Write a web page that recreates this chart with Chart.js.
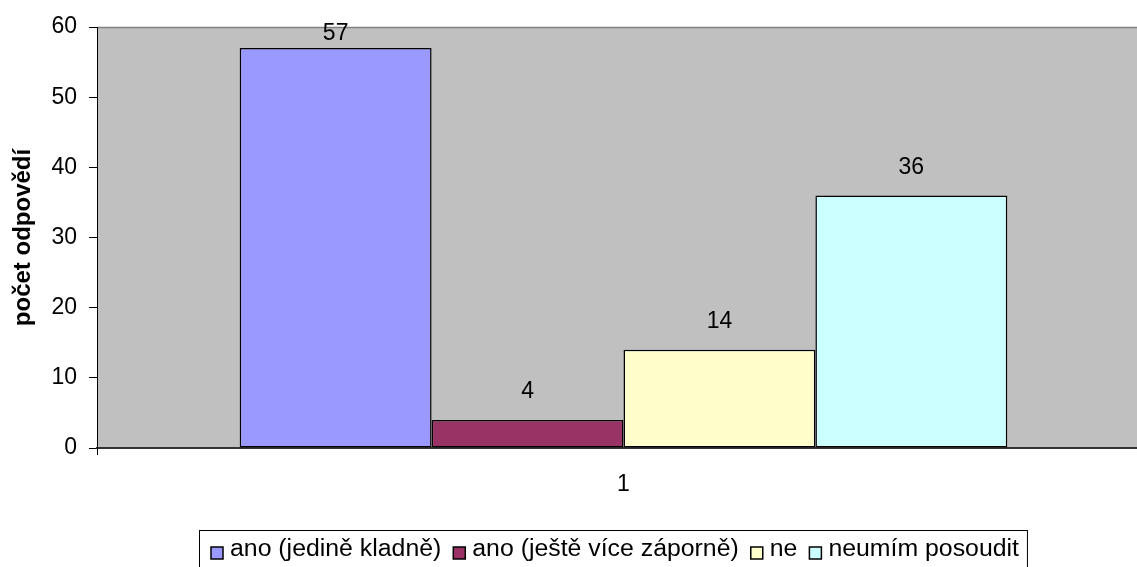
<!DOCTYPE html>
<html>
<head>
<meta charset="utf-8">
<script src="https://cdn.jsdelivr.net/npm/chart.js@4/dist/chart.umd.min.js"></script>
<style>
  html, body { margin: 0; padding: 0; background: #fff; overflow: hidden; }
  #wrap { width: 1150px; height: 567px; }
</style>
</head>
<body>
<div id="wrap"><canvas id="c" width="1150" height="567"></canvas></div>
<script>
const categories = ['1'];
const seriesNames = ['ano (jedině kladně)', 'ano (ještě více záporně)', 'ne', 'neumím posoudit'];
const seriesValues = [[57], [4], [14], [36]];
const seriesColors = ['#9999FF', '#993366', '#FFFFCC', '#CCFFFF'];
const yTicks = [0, 10, 20, 30, 40, 50, 60];

const FONT = 'Liberation Sans, Arial, sans-serif';

// grey plot background + top border line
const plotBg = {
  id: 'plotBg',
  beforeDraw(chart) {
    const { ctx, chartArea: a } = chart;
    ctx.save();
    ctx.fillStyle = '#C0C0C0';
    ctx.fillRect(a.left, a.top, a.right - a.left, a.bottom - a.top);
    ctx.strokeStyle = '#808080';
    ctx.lineWidth = 1.5;
    ctx.beginPath();
    ctx.moveTo(a.left, a.top + 0.5);
    ctx.lineTo(a.right, a.top + 0.5);
    ctx.stroke();
    ctx.restore();
  }
};

// value labels above bars
const valueLabels = {
  id: 'valueLabels',
  afterDatasetsDraw(chart) {
    const { ctx, chartArea: a } = chart;
    ctx.save();
    ctx.font = '23px ' + FONT;
    ctx.fillStyle = '#000';
    ctx.textAlign = 'center';
    ctx.textBaseline = 'middle';
    chart.data.datasets.forEach((ds, i) => {
      chart.getDatasetMeta(i).data.forEach((bar, j) => {
        const y = Math.max(bar.y - 28, a.top + 7);
        ctx.fillText(ds.data[j], bar.x, y);
      });
    });
    ctx.restore();
  }
};

// legend in a frame, laid out like the original (glyphs a bit wide)
const frameLegend = {
  id: 'frameLegend',
  afterDraw(chart) {
    const ctx = chart.ctx;
    const left = 199, top = 530, cy = 553, sx = 1.08;
    ctx.save();
    ctx.font = '23px ' + FONT;
    ctx.textBaseline = 'middle';
    ctx.textAlign = 'left';
    let x = left + 12;
    chart.data.datasets.forEach(ds => {
      ctx.fillStyle = ds.backgroundColor;
      ctx.fillRect(x, cy - 6, 12, 12);
      ctx.strokeStyle = '#000';
      ctx.lineWidth = 1.5;
      ctx.strokeRect(x, cy - 6, 12, 12);
      x += 19;
      ctx.save();
      ctx.translate(x, cy - 3);
      ctx.scale(sx, 1);
      ctx.fillStyle = '#000';
      ctx.fillText(ds.label, 0, 0);
      ctx.restore();
      x += ctx.measureText(ds.label).width * sx + 12;
    });
    ctx.strokeStyle = '#000';
    ctx.lineWidth = 1;
    ctx.strokeRect(left + 0.5, top + 0.5, x - 4 - left, 60);
    ctx.restore();
  }
};

new Chart(document.getElementById('c'), {
  type: 'bar',
  data: {
    labels: categories,
    datasets: seriesNames.map((name, i) => ({
      label: name,
      data: seriesValues[i],
      backgroundColor: seriesColors[i],
      borderColor: '#000',
      borderWidth: 1.5,
      borderSkipped: false,
      categoryPercentage: 0.729,
      barPercentage: 1.0,
    })),
  },
  options: {
    responsive: false,
    animation: false,
    layout: { padding: { top: 27, left: 0, right: 0, bottom: 0 } },
    plugins: {
      tooltip: { enabled: false },
      legend: { display: false },
    },
    scales: {
      x: {
        offset: true,
        grid: { display: true, drawOnChartArea: false, tickLength: 7, color: '#000', offset: true },
        border: { display: true, color: '#333', width: 2 },
        ticks: { font: { size: 23, family: FONT }, color: '#000', padding: 16 },
        afterFit(scale) { scale.height = 119; },
      },
      y: {
        min: 0,
        max: 60,
        afterBuildTicks(scale) { scale.ticks = yTicks.map(v => ({ value: v })); },
        grid: { display: true, drawOnChartArea: false, tickLength: 8, color: '#000' },
        border: { display: true, color: '#000', width: 1 },
        ticks: { font: { size: 23, family: FONT }, color: '#000', padding: 12 },
        title: {
          display: true,
          text: 'počet odpovědí',
          font: { size: 24, weight: 'bold', family: FONT },
          color: '#000',
          padding: { top: 9, bottom: 0 },
        },
        afterFit(scale) { scale.width = 97; },
      },
    },
  },
  plugins: [plotBg, valueLabels, frameLegend],
});
</script>
</body>
</html>
